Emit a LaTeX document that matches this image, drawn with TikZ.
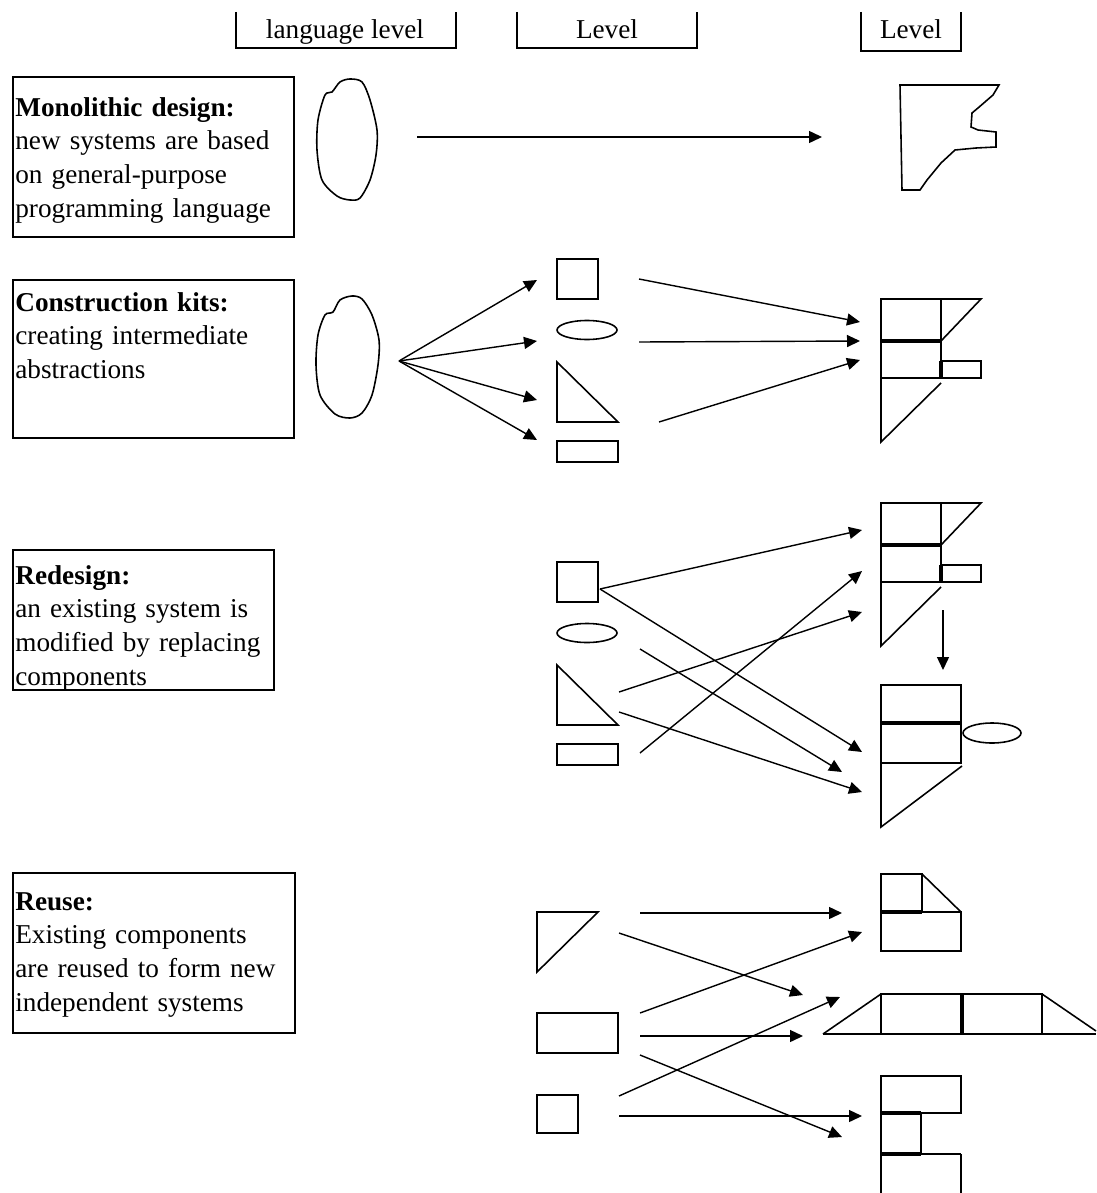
\documentclass[tikz,border=0pt]{standalone}
\usepackage{fontspec}
\setmainfont{Liberation Serif}
\usetikzlibrary{arrows.meta}

\tikzset{
  shp/.style={line width=0.9pt},
  frame/.style={line width=1.2pt},
  heavy/.style={line width=2.2pt},
  arr/.style={line width=0.8pt,-{Triangle[length=0.26cm,width=0.24cm]}},
  head/.style={anchor=base,inner sep=0pt,font=\fontsize{15.5}{19}\selectfont},
  desc/.style={anchor=base west,inner sep=0pt,text width=5.6cm,align=left,
    font=\fontsize{15.5}{19.3}\selectfont},
}

\begin{document}
\begin{tikzpicture}[x=0.02cm,y=-0.02cm]
    \useasboundingbox (0,0) rectangle (1096,1193);

    % column heads
    \draw[frame] (236,12) |- (456,48) -- (456,12);
    \draw[frame] (517,12) |- (697,48) -- (697,12);
    \draw[frame] (861,12) |- (961,51) -- (961,12);
    \node[head] (H1) at (345,39) {language level};
    \node[head] (H2) at (607,39) {Level};
    \node[head] (H3) at (911,39) {Level};

    % monolithic design
    \draw[frame] (13,77) rectangle (294,237);
    \node[desc] (mono) at (15,116) {\textbf{Monolithic design:}\\new systems are based\\on general-purpose\\programming language};
    \draw[shp] plot[smooth cycle] coordinates {(350,79) (362,82) (370,100) (377,130) (376,155) (370,180) (360,198) (350,200) (337,196) (322,180) (317,150) (318,120) (325,95) (332,92) (340,82)};
    \coordinate (M1) at (417,137);
    \coordinate (M2) at (822,137);
    \draw[arr] (M1) -- (M2);
    \draw[shp] (900,85) -- (999,85) -- (993,95) -- (978,108) -- (972,113) -- (971,127) -- (978,130) -- (996,132) -- (996,147) -- (976,148) -- (955,150) -- (941,163) -- (927,180) -- (920,190) -- (902,190) -- cycle;

    % construction kits
    \draw[frame] (13,280) rectangle (294,438);
    \node[desc] (kits) at (15,311) {\textbf{Construction kits:}\\creating intermediate\\abstractions};
    \draw[shp] plot[smooth cycle] coordinates {(352,296) (362,299) (372,315) (379,340) (378,365) (372,395) (362,413) (350,418) (335,414) (320,395) (316,365) (318,335) (325,315) (333,312) (340,300)};
    \coordinate (K0) at (399,361);
    \foreach \y [count=\i] in {280,341,400,440}{
        \coordinate (K\i) at (537,\y);
        \draw[arr] (K0) -- (K\i);
    }
    \foreach \a/\b/\c/\d [count=\i] in {639/279/860/322,639/342/860/341,659/422/860/360}{
        \coordinate (Ka\i) at (\a,\b);
        \coordinate (Kb\i) at (\c,\d);
        \draw[arr] (Ka\i) -- (Kb\i);
    }

    % parts, same for kits and redesign
    \foreach \oy in {0,303}{
        \draw[shp] (557,259+\oy) rectangle (598,299+\oy);
        \draw[shp] (587,330+\oy) ellipse [x radius=0.6cm,y radius=0.19cm];
        \draw[shp] (557,362+\oy) -- (557,422+\oy) -- (618,422+\oy) -- cycle;
        \draw[shp] (557,441+\oy) rectangle (618,462+\oy);
    }
    % built systems, same for kits and redesign
    \foreach \oy in {0,204}{
        \draw[shp] (881,299+\oy) rectangle (941,378+\oy);
        \draw[shp] (941,299+\oy) -- (981,299+\oy) -- (941,341+\oy);
        \draw[heavy] (881,341+\oy) -- (941,341+\oy);
        \draw[shp] (941,361+\oy) rectangle (981,378+\oy);
        \draw[heavy] (941,361+\oy) -- (941,378+\oy);
        \draw[shp] (881,378+\oy) -- (881,442+\oy) -- (941,383+\oy);
    }

    % redesign
    \draw[frame] (13,550) rectangle (274,690);
    \node[desc] (redo) at (15,584) {\textbf{Redesign:}\\an existing system is\\modified by replacing\\components};
    \foreach \a/\b/\c/\d [count=\i] in {600/589/862/530,600/589/862/752,640/649/842/772,619/692/862/612,619/712/862/792,640/753/862/571}{
        \coordinate (Ra\i) at (\a,\b);
        \coordinate (Rb\i) at (\c,\d);
        \draw[arr] (Ra\i) -- (Rb\i);
    }
    \coordinate (R1) at (943,610);
    \coordinate (R2) at (943,670);
    \draw[arr] (R1) -- (R2);
    \draw[shp] (881,685) rectangle (961,763);
    \draw[heavy] (881,723) -- (961,723);
    \draw[shp] (992,733) ellipse [x radius=0.58cm,y radius=0.2cm];
    \draw[shp] (881,763) -- (881,827) -- (962,766);

    % reuse
    \draw[frame] (13,873) rectangle (295,1033);
    \node[desc] (reuse) at (15,910) {\textbf{Reuse:}\\Existing components\\are reused to form new\\independent systems};
    \draw[shp] (537,912) -- (598,912) -- (537,972) -- cycle;
    \draw[shp] (537,1013) rectangle (618,1053);
    \draw[shp] (537,1095) rectangle (578,1133);
    \foreach \a/\b/\c/\d [count=\i] in {640/913/842/913,619/933/803/995,640/1013/862/932,640/1036/803/1036,619/1096/840/997,640/1055/842/1137,619/1116/862/1116}{
        \coordinate (Ua\i) at (\a,\b);
        \coordinate (Ub\i) at (\c,\d);
        \draw[arr] (Ua\i) -- (Ub\i);
    }
    \draw[shp] (881,874) rectangle (922,912);
    \draw[shp] (922,874) -- (961,912);
    \draw[shp] (881,912) rectangle (961,951);
    \draw[heavy] (881,912) -- (922,912);
    \draw[shp] (823,1034) -- (881,1034);
    \draw[shp] (823,1034) -- (881,994);
    \draw[shp] (881,994) rectangle (1042,1034);
    \draw[heavy] (962,994) -- (962,1034);
    \draw[shp] (1042,994) -- (1096,1031);
    \draw[shp] (1042,1034) -- (1096,1034);
    \draw[shp] (881,1076) rectangle (961,1113);
    \draw[shp] (881,1113) rectangle (921,1154);
    \draw[heavy] (881,1113) -- (921,1113);
    \draw[heavy] (881,1154) -- (921,1154);
    \draw[shp] (881,1154) -- (881,1193) (961,1154) -- (961,1193) (921,1154) -- (961,1154);

\end{tikzpicture}
\end{document}
